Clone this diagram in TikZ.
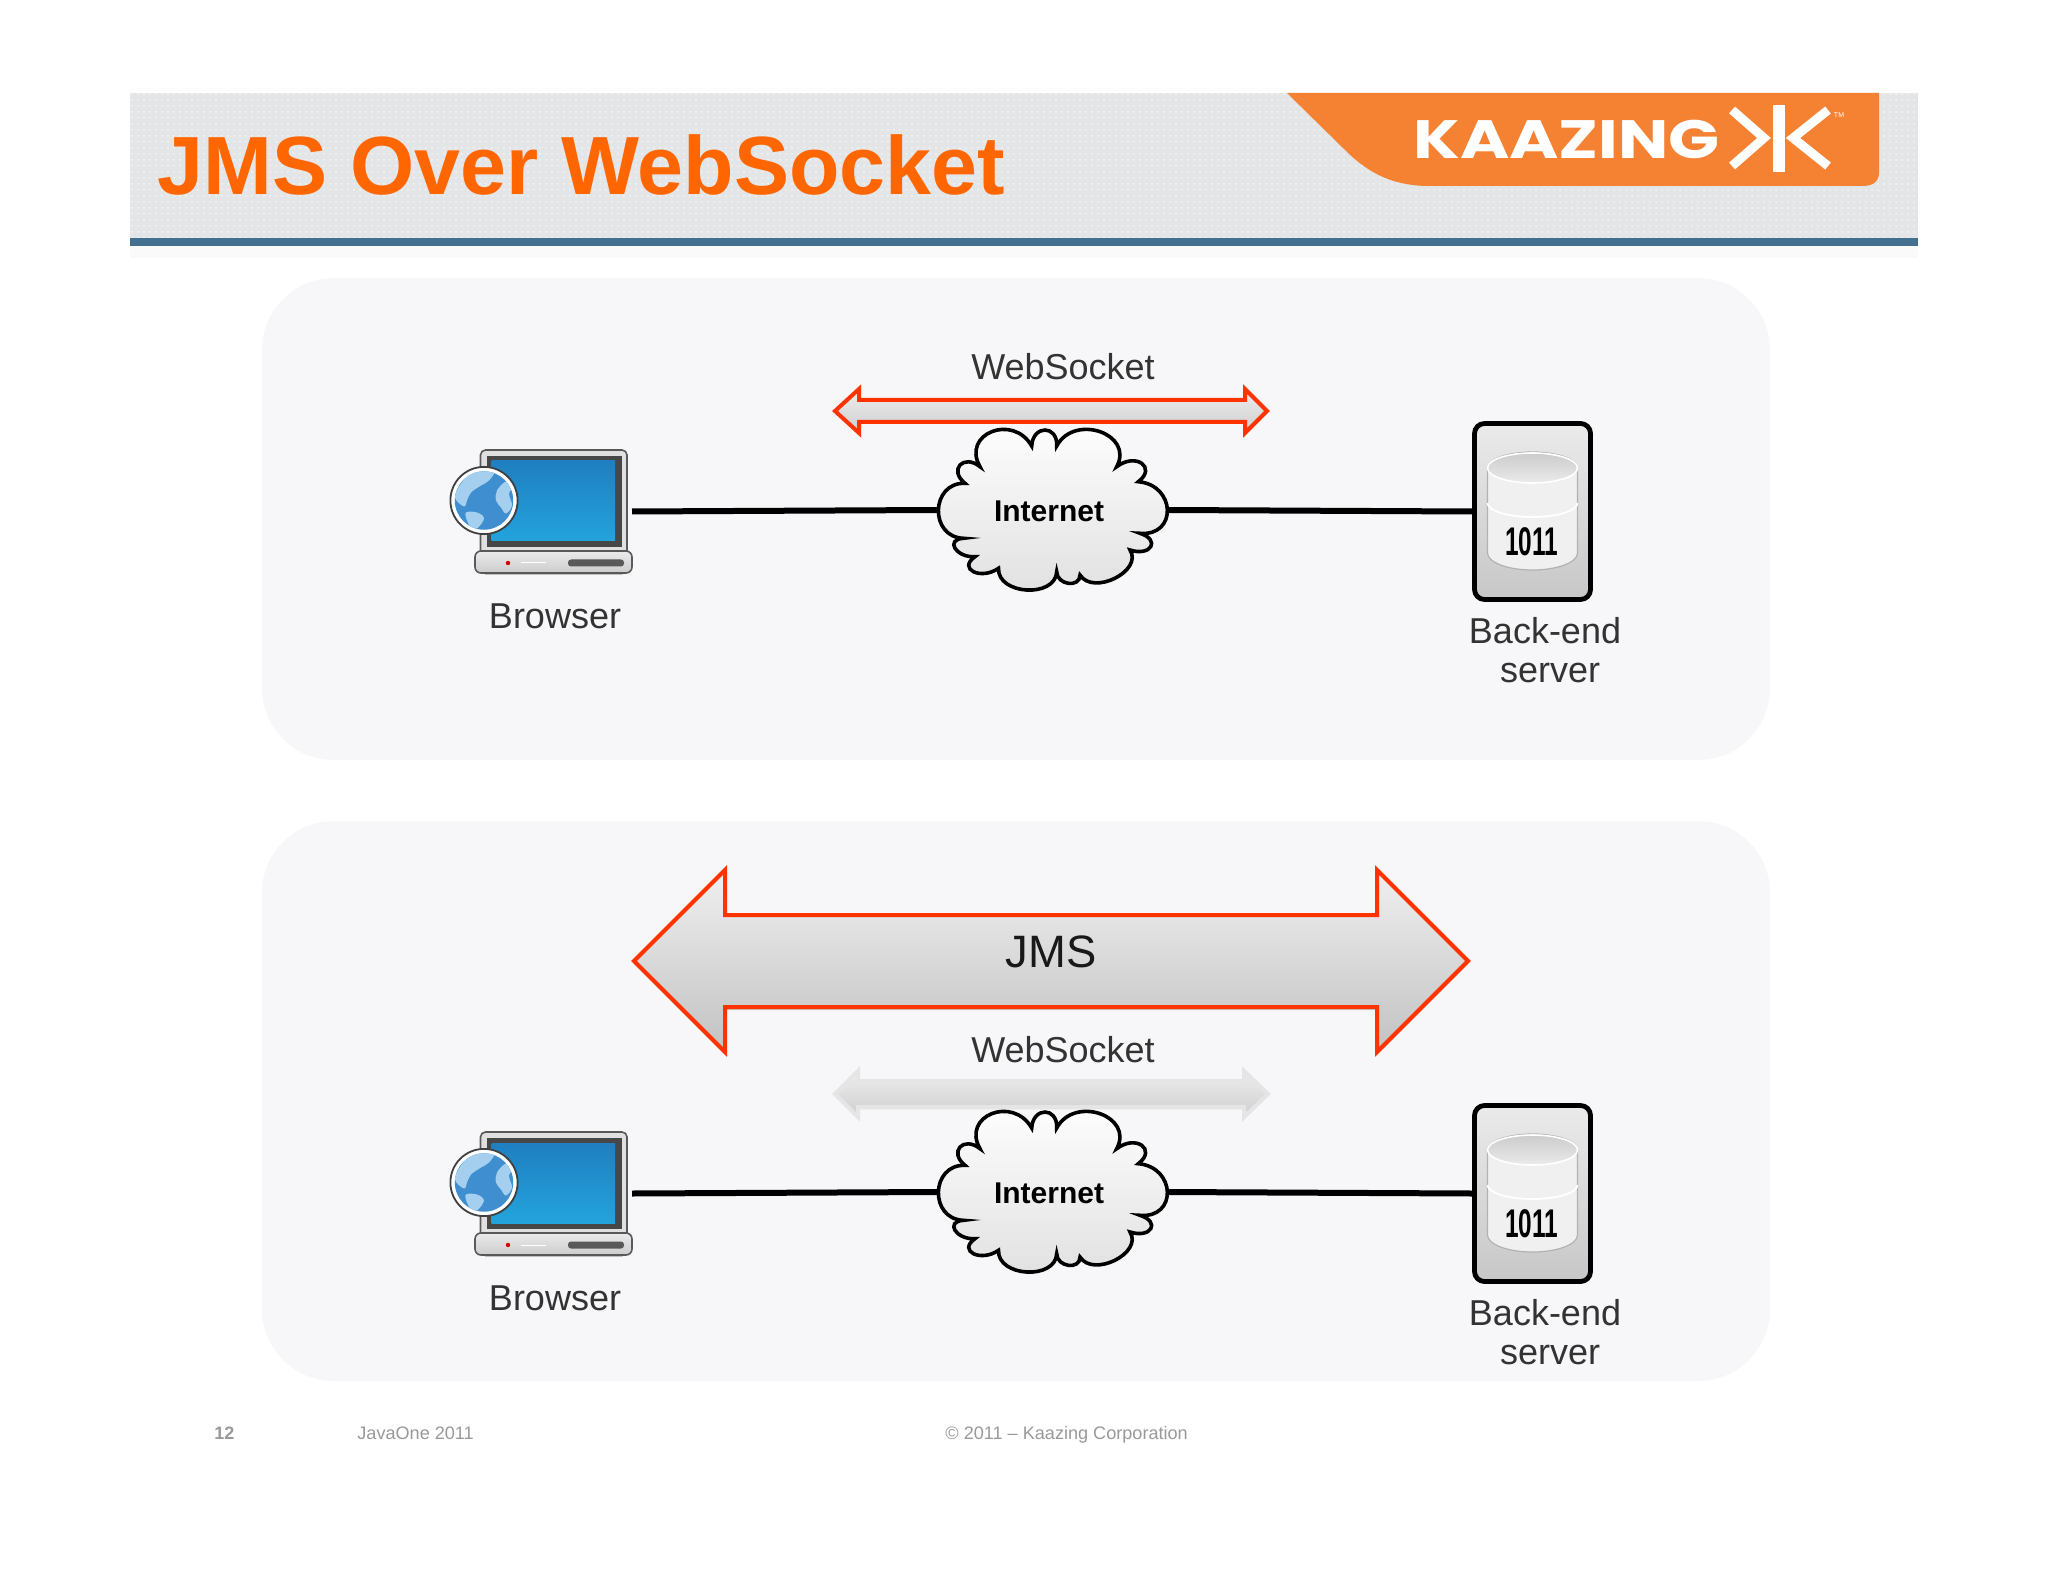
\documentclass[tikz,border=0pt]{standalone}
\usepackage{fontspec}
\setmainfont{Liberation Sans}
\newfontfamily\logofont[FakeStretch=1.24]{Poppins}
\newfontfamily\numfont[FakeStretch=.61]{Liberation Sans}
\usetikzlibrary{shadows,patterns}
\definecolor{arrowred}{HTML}{FF3300}
\definecolor{panelgrey}{HTML}{F7F7F9}
\definecolor{headgrey}{HTML}{E3E5E7}
\definecolor{titleorange}{HTML}{FF6600}
\definecolor{logoorange}{HTML}{F58233}
\definecolor{barblue}{HTML}{44708F}
\definecolor{labelgrey}{HTML}{333333}
\definecolor{footgrey}{HTML}{999999}
\definecolor{screentop}{HTML}{1F7FC1}
\definecolor{screenbot}{HTML}{23A3DC}
\definecolor{oceanblue}{HTML}{3F8ED0}
\definecolor{landblue}{HTML}{A5CFEF}
\tikzset{
    panel/.style={fill=panelgrey,rounded corners=36pt},
    biglabel/.style={anchor=base,inner sep=0pt,text=labelgrey,font=\fontsize{18}{18}\selectfont},
    footlabel/.style={anchor=base west,inner sep=0pt,text=footgrey,font=\fontsize{9.05}{9.05}\selectfont},
    wire/.style={line width=3pt,black},
    iconbox/.style={inner sep=0pt,outer sep=0pt,minimum width=78.5pt,minimum height=61.5pt},
    serverbox/.style={draw=black,line width=2.4pt,rounded corners=5pt,inner sep=0pt,outer sep=1.2pt,
        minimum width=58pt,minimum height=88pt,top color=black!8,bottom color=black!22},
    cloudbox/.style={inner sep=0pt,outer sep=0pt,minimum width=115.5pt,minimum height=80pt},
    cloudlabel/.style={inner sep=0pt,font=\fontsize{15}{15}\selectfont\bfseries},
    jmsarrow/.style={draw=arrowred,line width=2pt,line join=miter,top color=black!6,bottom color=black!24,
        drop shadow={shadow xshift=0pt,shadow yshift=-1.5pt,opacity=.18,fill=black}},
    wsarrow/.style={line width=2pt,line join=miter,top color=black!7,bottom color=black!19,
        drop shadow={shadow xshift=0pt,shadow yshift=-1pt,opacity=.18,fill=black}},
    netcloud/.pic={
        \draw[draw=black,line width=1.8pt,top color=white,bottom color=black!12]
            (-87.5,-26.7) .. controls (-122,-27.8) and (-123.5,27.2) .. (-89,28.3)
            .. controls (-108,29.4) and (-96.5,47.8) .. (-77.5,46.7)
            .. controls (-95.2,59) and (-71.7,70.6) .. (-54,58.3)
            .. controls (-55.2,85) and (3,88.4) .. (4.2,61.7)
            .. controls (4.2,75) and (27.5,78.3) .. (27.5,65)
            .. controls (40.8,86) and (90.8,61) .. (77.5,40)
            .. controls (98.5,46.7) and (108.5,30) .. (87.5,23.3)
            .. controls (125,26.6) and (123.5,-25) .. (85.8,-28.3)
            .. controls (104.7,-42.8) and (83.1,-57.8) .. (64.2,-43.3)
            .. controls (81.9,-76.2) and (21.9,-96.9) .. (4.2,-64)
            .. controls (5.3,-85.3) and (-19.7,-85.3) .. (-20.8,-64)
            .. controls (-39.7,-96.9) and (-91.4,-76.2) .. (-72.5,-43.3)
            .. controls (-89.2,-56.6) and (-104.2,-40) .. (-87.5,-26.7) -- cycle;
    },
    browsericon/.pic={
        \draw[fill=black!12,draw=black!65,line width=.8pt,rounded corners=2.5pt] (-73,62) rectangle (73.5,-61.5);
        \fill[black!72] (-67,-55.5) rectangle (68.5,35.5);
        \shade[top color=screentop,bottom color=screenbot] (-62,-50.5) rectangle (61.5,29.5);
        \draw[top color=black!8,bottom color=black!20,draw=black!65,line width=.8pt,rounded corners=3pt]
            (-78.5,39.5) rectangle (78.5,61.5);
        \fill[red!85!black] (-45.5,51.5) circle (1.1pt);
        \draw[white,line width=.5pt] (-33,51.5) -- (-8,51.5);
        \fill[black!65,rounded corners=1.5pt] (14.5,48) rectangle (70.5,55);
        % globe over the screen
        \begin{scope}[shift={(-69.5,-11)}]
            \draw[fill=white,draw=black!75,line width=.9pt] (0,0) circle (16.8pt);
            \clip (0,0) circle (14.6pt);
            \fill[oceanblue] (-32,-32) rectangle (32,32);
            \fill[landblue] plot[smooth cycle,tension=.6] coordinates
                {(-29,-3) (-23,-17) (-10,-29) (10,-30) (5,-20) (-3,-15) (-13,-8) (-17,0) (-20,6)};
            \fill[landblue] plot[smooth cycle,tension=.6] coordinates
                {(30,-15) (25,-7) (28,5) (22,13) (17,7) (12,0) (13,-10) (22,-19)};
            \fill[landblue] plot[smooth cycle,tension=.6] coordinates
                {(-18,12) (-7,12) (0,18) (-7,28) (-13,27) (-17,20)};
        \end{scope}
    },
    servericon/.pic={
        \draw[fill=black!6,draw=black!30,line width=.6pt]
            (-45,-43.5) -- (-45,41.5) arc[start angle=180,end angle=0,x radius=45,y radius=17]
            -- (45,-43.5) arc[start angle=0,end angle=-180,x radius=45,y radius=16] -- cycle;
        \draw[top color=black!20,bottom color=black!8,draw=white,line width=.8pt]
            (0,-43.5) ellipse (45 and 15);
        \draw[white,line width=.9pt] (-45,-8.5) arc[start angle=180,end angle=0,x radius=45,y radius=14];
        \node[inner sep=0pt] (disklabel) at (-1,30) {\fontsize{20}{20}\numfont\bfseries 1011};
    }
}
\begin{document}
\begin{tikzpicture}[x=0.5pt,y=-0.5pt]
    \useasboundingbox (0,0) rectangle (2048,1582);
    \fill[white] (0,0) rectangle (2048,1582);
    % header band
    \fill[headgrey] (130,93) rectangle (1918,238);
    \fill[pattern=dots,pattern color=white!60!headgrey] (130,93) rectangle (1918,238);
    \fill[barblue] (130,238) rectangle (1918,246);
    \fill[black!2] (130,246) rectangle (1918,258);
    \fill[logoorange] (1287,93) -- (1879,93) -- (1879,172) .. controls (1879,182) and (1873,186) .. (1862,186)
        -- (1430,186) .. controls (1395,186) and (1370,175) .. (1345,150) -- cycle;
    \node[anchor=base west,inner sep=0pt,text=titleorange,font=\fontsize{41.3}{41.3}\selectfont\bfseries] (title) at (157,195) {JMS Over WebSocket};
    \node[anchor=base west,inner sep=0pt,text=white,font=\fontsize{27}{27}\logofont\bfseries] (logotext) at (1413,159) {KAAZING};
    \draw[white,line width=4.5pt,line join=miter] (1732,110) -- (1764,138) -- (1732,166);
    \draw[white,line width=4.5pt,line join=miter] (1828,110) -- (1793,138) -- (1828,166);
    \draw[white,line width=6pt] (1779,105) -- (1779,172);
    \node[inner sep=0pt,text=white,font=\fontsize{3.5}{3.5}\selectfont] (logotm) at (1839,115) {TM};
    % panels
    \fill[panel] (262,278) rectangle (1770,760);
    \fill[panel] (262,821) rectangle (1770,1381);
    % upper row
    \draw[wsarrow,draw=arrowred] (835,411) -- (859,389) -- (859,400) -- (1245,400) -- (1245,389) -- (1267,411)
        -- (1245,433) -- (1245,422) -- (859,422) -- (859,433) -- cycle;
    \node[biglabel] (wslabela) at (1063,380) {WebSocket};
    \node[iconbox] (browsera) at (553.5,511.5) {};
    \pic at (browsera) {browsericon};
    \node[cloudbox] (clouda) at (1052.5,510) {};
    \pic at (clouda) {netcloud};
    \node[cloudlabel] (cloudtexta) at (1049,511) {Internet};
    \node[serverbox] (servera) at (1532.5,511.5) {};
    \pic at (servera) {servericon};
    \draw[wire] (browsera.east) -- (clouda.west);
    \draw[wire] (clouda.east) -- (servera.west);
    \node[biglabel] (browserlabela) at (555,628) {Browser};
    \node[biglabel] (serverlabela) at (1545,643) {Back-end};
    \node[biglabel] (serverlabelb) at (1550,682) {server};
    % lower row
    \draw[jmsarrow] (634,961) -- (725,870) -- (725,915) -- (1377,915) -- (1377,870) -- (1468,961)
        -- (1377,1052) -- (1377,1007) -- (725,1007) -- (725,1052) -- cycle;
    \node[anchor=base,inner sep=0pt,text=black!90,font=\fontsize{22.7}{22.7}\selectfont] (jmslabel) at (1051,967) {JMS};
    \draw[wsarrow,draw=black!10] (835,1094) -- (858,1071) -- (858,1081) -- (1244,1081) -- (1244,1071) -- (1268,1094)
        -- (1244,1117) -- (1244,1107) -- (858,1107) -- (858,1117) -- cycle;
    \node[biglabel] (wslabelb) at (1063,1062) {WebSocket};
    \node[iconbox] (browserb) at (553.5,1193.5) {};
    \pic at (browserb) {browsericon};
    \node[cloudbox] (cloudb) at (1052.5,1192) {};
    \pic at (cloudb) {netcloud};
    \node[cloudlabel] (cloudtextb) at (1049,1193) {Internet};
    \node[serverbox] (serverb) at (1532.5,1193.5) {};
    \pic at (serverb) {servericon};
    \draw[wire] (browserb.east) -- (cloudb.west);
    \draw[wire] (cloudb.east) -- (serverb.west);
    \node[biglabel] (browserlabelb) at (555,1310) {Browser};
    \node[biglabel] (serverlabelc) at (1545,1325) {Back-end};
    \node[biglabel] (serverlabeld) at (1550,1364) {server};
    % footer
    \node[footlabel,font=\fontsize{9}{9}\selectfont\bfseries] (pagenum) at (214,1439) {12};
    \node[footlabel] (confname) at (357,1439) {JavaOne 2011};
    \node[footlabel] (copyright) at (945,1439) {© 2011 – Kaazing Corporation};
\end{tikzpicture}
\end{document}
